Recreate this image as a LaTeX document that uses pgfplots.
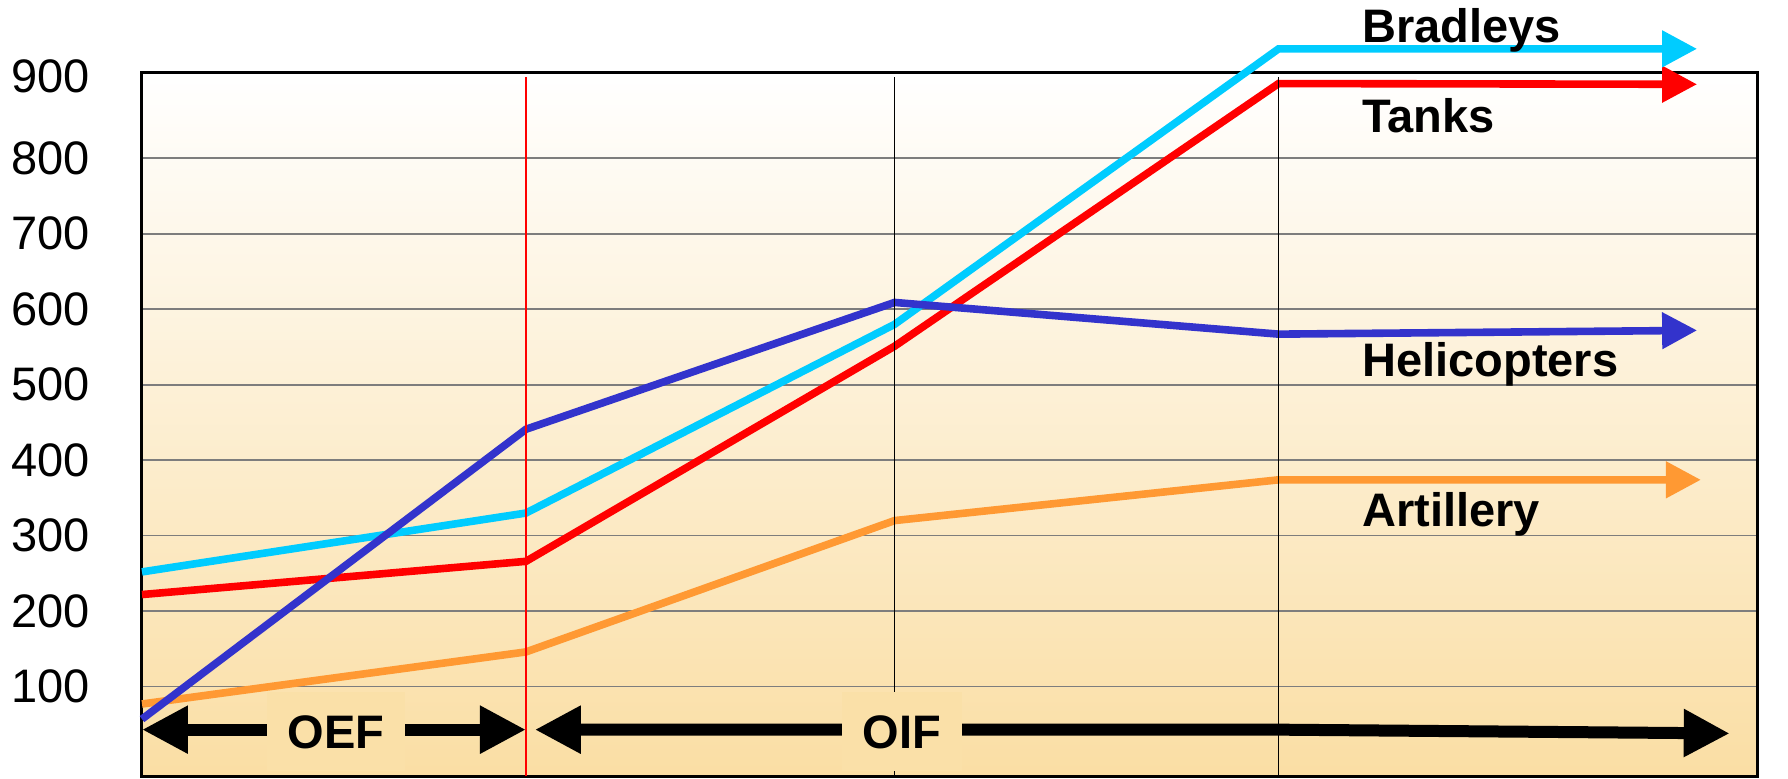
\documentclass[border=0pt]{standalone}
\usepackage{fontspec}
\setmainfont{Liberation Sans}
\usepackage{pgfplots}
\pgfplotsset{compat=1.18}
\usetikzlibrary{arrows.meta}
\definecolor{heli}{RGB}{51,51,204}
\definecolor{brad}{RGB}{0,204,255}
\definecolor{tank}{RGB}{255,0,0}
\definecolor{arty}{RGB}{255,153,51}
\definecolor{bgbot}{RGB}{250,222,164}
\definecolor{labbg}{RGB}{250,224,168}
\definecolor{gridgray}{RGB}{125,125,125}
\begin{document}
\begin{tikzpicture}
\useasboundingbox (-71pt,-1pt) rectangle (823pt,388pt);
\begin{axis}[
  at={(0,0)}, anchor=south west,
  scale only axis, width=807.5pt, height=351.5pt,
  xmin=0, xmax=4.206, ymin=-18.4, ymax=913,
  clip=false,
  axis line style={line width=1.5pt, black},
  axis background/.style={top color=white, bottom color=bgbot},
  xtick=\empty,
  ytick={100,200,...,800},
  extra y ticks={900},
  extra y tick style={grid=none, yticklabel style={yshift=3pt}},
  ymajorgrids, major grid style={gridgray, line width=0.8pt},
  major tick length=0pt,
  tick label style={font=\fontsize{23.5}{23.5}\selectfont},
  /pgf/number format/assume math mode=true,
  yticklabel style={inner sep=0pt, xshift=-26pt},
]
\addplot[arty, line width=3.8pt, -{Triangle[length=17.5pt,width=17.5pt]}]
  coordinates {(0,77)(1,146)(1.96,320)(2.96,374)(4.06,374)};
\addplot[tank, line width=3.8pt, -{Triangle[length=17.5pt,width=17.5pt]}]
  coordinates {(0,222)(1,266)(1.96,551)(2.96,899)(4.05,898)};
\addplot[brad, line width=3.8pt, -{Triangle[length=17.5pt,width=17.5pt]}]
  coordinates {(0,252)(1,330)(1.96,580)(2.96,945)(4.05,945)};
\addplot[heli, line width=3.8pt, -{Triangle[length=17.5pt,width=17.5pt]}]
  coordinates {(0,57)(1,441)(1.96,609)(2.96,567)(4.05,572)};

\draw[tank, line width=0.6pt] (axis cs:1,-18.4) -- (axis cs:1,908);
\draw[black, line width=0.7pt] (axis cs:1.96,-18.4) -- (axis cs:1.96,908);
\draw[black, line width=0.7pt] (axis cs:2.96,-18.4) -- (axis cs:2.96,908);

\addplot[black, line width=6pt, {Triangle[length=23pt,width=22.5pt]}-{Triangle[length=23pt,width=22.5pt]}]
  coordinates {(0,43)(1,43)};
\addplot[black, line width=6pt, {Triangle[length=23pt,width=22.5pt]}-{Triangle[length=23pt,width=22.5pt]}]
  coordinates {(1.023,43)(2.96,43)(4.135,38)};

\node[fill=labbg, inner xsep=10.5pt, minimum height=39.5pt, font=\bfseries\fontsize{23.5}{23.5}\selectfont] at (axis cs:0.505,40) {OEF};
\node[fill=labbg, inner xsep=10.5pt, minimum height=39.5pt, font=\bfseries\fontsize{23.5}{23.5}\selectfont] at (axis cs:1.979,40) {OIF};

\node[anchor=base west, inner sep=0pt, font=\bfseries\fontsize{23.5}{23.5}\selectfont] at (axis cs:3.177,953) {Bradleys};
\node[anchor=base west, inner sep=0pt, font=\bfseries\fontsize{23.5}{23.5}\selectfont] at (axis cs:3.177,834) {Tanks};
\node[anchor=base west, inner sep=0pt, font=\bfseries\fontsize{23.5}{23.5}\selectfont] at (axis cs:3.177,511) {Helicopters};
\node[anchor=base west, inner sep=0pt, font=\bfseries\fontsize{23.5}{23.5}\selectfont] at (axis cs:3.177,312) {Artillery};
\end{axis}
\end{tikzpicture}
\end{document}
